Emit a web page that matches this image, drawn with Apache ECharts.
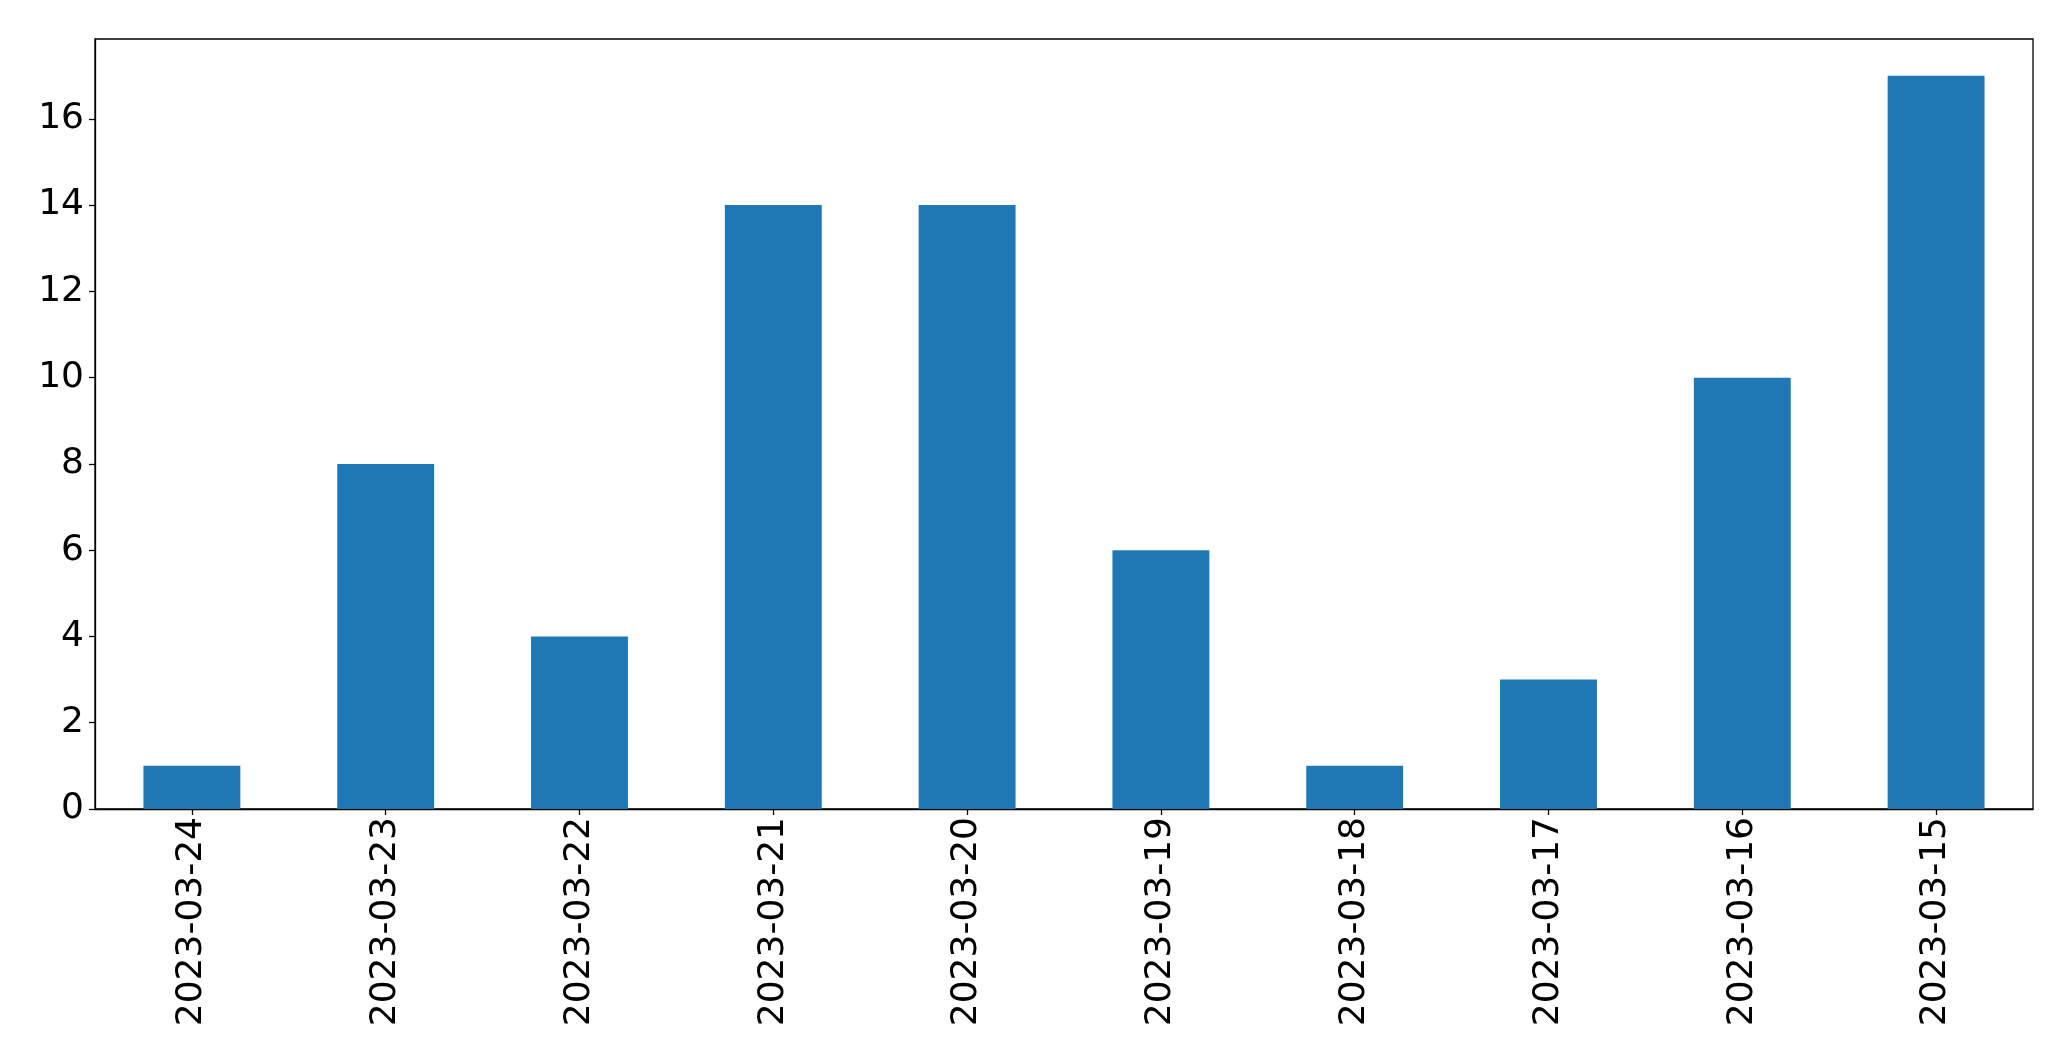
<!DOCTYPE html>
<html>
<head>
<meta charset="utf-8">
<script src="https://cdn.jsdelivr.net/npm/echarts@6/dist/echarts.min.js"></script>
<style>
html,body{margin:0;padding:0;background:#fff;}
#chart{width:2071px;height:1061px;}
</style>
</head>
<body>
<div id="chart"></div>
<script>
const categories = ['2023-03-24','2023-03-23','2023-03-22','2023-03-21','2023-03-20','2023-03-19','2023-03-18','2023-03-17','2023-03-16','2023-03-15'];
const values = [1, 8, 4, 14, 14, 6, 1, 3, 10, 17];
const yTicks = [0, 2, 4, 6, 8, 10, 12, 14, 16];

const chart = echarts.init(document.getElementById('chart'), null, {renderer: 'canvas'});
const font = 'DejaVu Sans';
chart.setOption({
  animation: false,
  backgroundColor: '#ffffff',
  grid: {
    left: 95, right: 38, top: 39, bottom: 252,
    show: true, borderColor: '#000', borderWidth: 1.3, backgroundColor: 'transparent'
  },
  xAxis: {
    type: 'category',
    data: categories,
    boundaryGap: true,
    axisLine: {show: true, lineStyle: {color: '#000', width: 1.3}},
    axisTick: {show: true, alignWithLabel: true, length: 6, lineStyle: {color: '#000', width: 1.3}},
    axisLabel: {rotate: 90, fontFamily: font, fontSize: 36, color: '#000', margin: 8, interval: 0},
    splitLine: {show: false}
  },
  yAxis: {
    type: 'value',
    min: 0, max: 17.85, interval: 2,
    axisLine: {show: true, lineStyle: {color: '#000', width: 1.3}},
    axisTick: {show: true, length: 6, lineStyle: {color: '#000', width: 1.3}},
    axisLabel: {
      fontFamily: font, fontSize: 36, color: '#000', margin: 11,
      showMaxLabel: false,
      formatter: v => yTicks.includes(v) ? String(v) : ''
    },
    splitLine: {show: false}
  },
  series: [{
    type: 'bar',
    data: values,
    barWidth: '50%',
    itemStyle: {color: '#1f77b4'}
  }]
});
</script>
</body>
</html>
